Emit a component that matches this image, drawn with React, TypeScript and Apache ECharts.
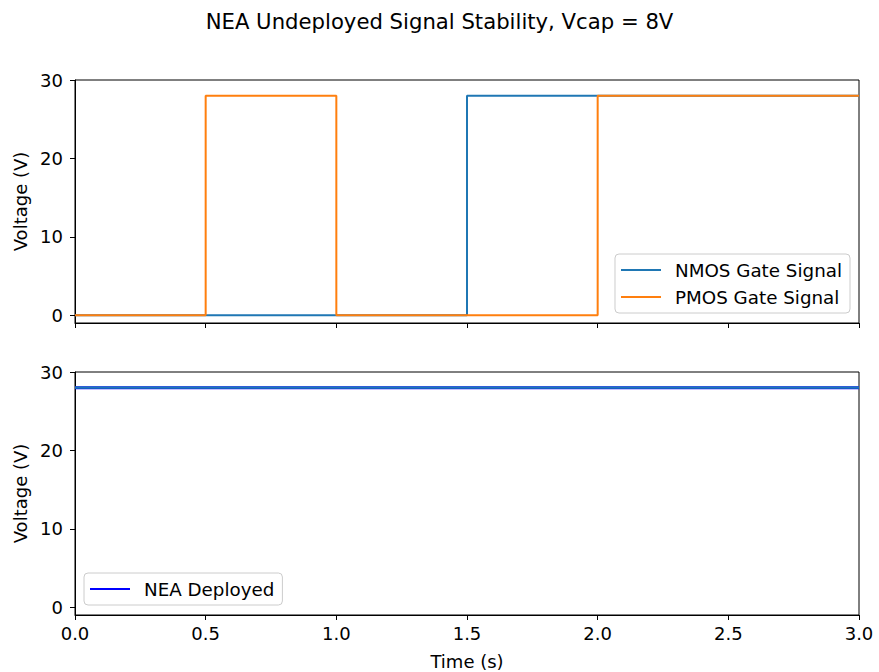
import React, { useEffect, useRef } from "react";
import * as echarts from "echarts";

// Gate drive traces (time in seconds, voltage in volts)
const nmosTime = [0, 1.5, 1.5, 3.0];
const nmosVolt = [0, 0, 28, 28];
const pmosTime = [0, 0.5, 0.5, 1.0, 1.0, 2.0, 2.0, 3.0];
const pmosVolt = [0, 0, 28, 28, 0, 0, 28, 28];
const neaTime = [0, 3.0];
const neaVolt = [28, 28];

const voltTicks = [0, 10, 20, 30];
const seriesNames = ["NMOS Gate Signal", "PMOS Gate Signal", "NEA Deployed"];

const FONT = "DejaVu Sans";
const FS = 18;

const pairs = (xs: number[], ys: number[]) => xs.map((x, i) => [x, ys[i]]);

const xAxisBase = (withLabels: boolean, gridIndex: number) => ({
  type: "value",
  gridIndex,
  min: 0,
  max: 3,
  interval: 0.5,
  axisLine: { onZero: false, lineStyle: { color: "#000", width: 1 } },
  axisTick: { show: true, length: 5, inside: false, lineStyle: { color: "#000" } },
  axisLabel: {
    show: withLabels,
    color: "#000",
    fontFamily: FONT,
    fontSize: FS,
    margin: 9,
    formatter: (v: number) => v.toFixed(1),
  },
  splitLine: { show: false },
  ...(withLabels
    ? {
        name: "Time (s)",
        nameLocation: "middle",
        nameGap: 37,
        nameTextStyle: { color: "#000", fontFamily: FONT, fontSize: FS },
      }
    : {}),
});

const yAxisBase = (gridIndex: number) => ({
  type: "value",
  gridIndex,
  min: -1,
  max: 30,
  name: "Voltage (V)",
  nameLocation: "middle",
  nameGap: 46,
  nameTextStyle: { color: "#000", fontFamily: FONT, fontSize: FS },
  axisLine: { show: true, lineStyle: { color: "#000", width: 1 } },
  axisTick: { show: true, length: 5, inside: false, customValues: voltTicks, lineStyle: { color: "#000" } },
  axisLabel: {
    color: "#000",
    fontFamily: FONT,
    fontSize: FS,
    margin: 12,
    customValues: voltTicks,
  },
  splitLine: { show: false },
});

const legendBase = {
  orient: "vertical",
  backgroundColor: "#fff",
  borderColor: "#cccccc",
  borderWidth: 1,
  borderRadius: 4,
  padding: [6, 8, 6, 6],
  itemGap: 7,
  itemWidth: 40,
  itemHeight: 2,
  icon: "path://M0,0 L40,0 L40,2 L0,2 Z",
  textStyle: {
    color: "#000",
    fontFamily: FONT,
    fontSize: 18.3,
    lineHeight: 20,
    padding: [0, 0, 0, 9],
  },
};

export default function App() {
  const ref = useRef<HTMLDivElement>(null);

  useEffect(() => {
    if (!ref.current) return;
    const chart = echarts.init(ref.current, undefined, { renderer: "svg" });
    chart.setOption({
      animation: false,
      backgroundColor: "#fff",
      title: {
        text: "NEA Undeployed Signal Stability, Vcap = 8V",
        left: "center",
        top: 6,
        textStyle: { color: "#000", fontFamily: FONT, fontSize: 21.2, fontWeight: "normal" },
      },
      grid: [
        { left: 75, right: 20, top: 80, height: 243, show: true, borderColor: "#000", borderWidth: 1 },
        { left: 75, right: 20, top: 372, height: 243, show: true, borderColor: "#000", borderWidth: 1 },
      ],
      xAxis: [xAxisBase(false, 0), xAxisBase(true, 1)],
      yAxis: [yAxisBase(0), yAxisBase(1)],
      legend: [
        { ...legendBase, data: [seriesNames[0], seriesNames[1]], right: 29, top: 254 },
        { ...legendBase, data: [seriesNames[2]], left: 84, top: 573 },
      ],
      series: [
        {
          name: seriesNames[0],
          type: "line",
          xAxisIndex: 0,
          yAxisIndex: 0,
          data: pairs(nmosTime, nmosVolt),
          showSymbol: false,
          symbol: "none",
          color: "#1f77b4",
          lineStyle: { width: 2, color: "#1f77b4" },
        },
        {
          name: seriesNames[1],
          type: "line",
          xAxisIndex: 0,
          yAxisIndex: 0,
          data: pairs(pmosTime, pmosVolt),
          showSymbol: false,
          symbol: "none",
          color: "#ff7f0e",
          lineStyle: { width: 2, color: "#ff7f0e" },
        },
        {
          name: seriesNames[2],
          type: "line",
          xAxisIndex: 1,
          yAxisIndex: 1,
          data: pairs(neaTime, neaVolt),
          showSymbol: false,
          symbol: "none",
          color: "#0000ff",
          lineStyle: { width: 3, color: "#0000ff" },
        },
        {
          name: "NEA Deployed overlay",
          type: "line",
          xAxisIndex: 1,
          yAxisIndex: 1,
          data: pairs(neaTime, neaVolt),
          showSymbol: false,
          symbol: "none",
          color: "#1f77b4",
          lineStyle: { width: 2.2, color: "#1f77b4" },
        },
      ],
    });
    return () => chart.dispose();
  }, []);

  return (
    <div
      ref={ref}
      style={{ position: "fixed", left: 0, top: 0, width: 879, height: 672, background: "#fff" }}
    />
  );
}
